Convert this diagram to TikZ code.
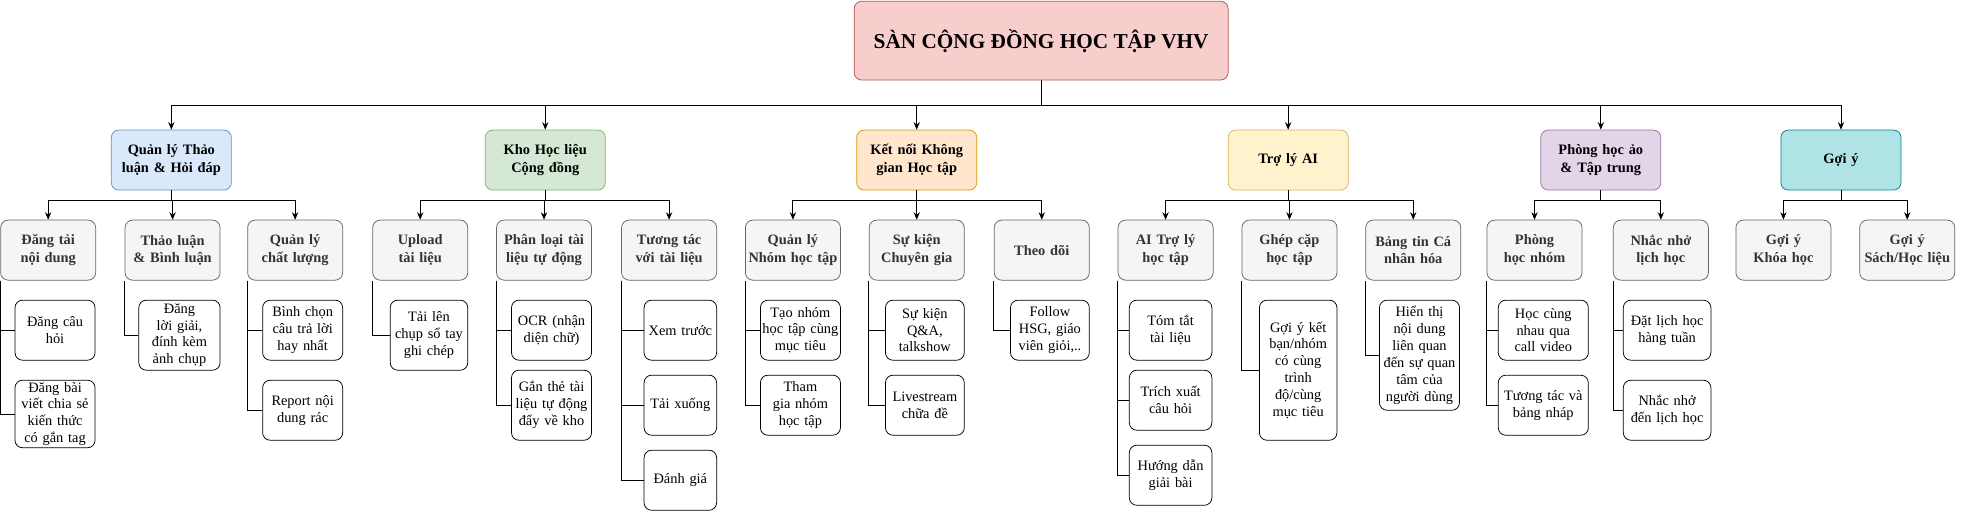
\documentclass[tikz,border=0pt]{standalone}
\usepackage{fontspec}
\setmainfont{Liberation Serif}
\usetikzlibrary{arrows.meta}
\definecolor{rf}{HTML}{F8CECC}\definecolor{rs}{HTML}{B85450}
\definecolor{bf}{HTML}{DAE8FC}\definecolor{bs}{HTML}{6C8EBF}
\definecolor{gf}{HTML}{D5E8D4}\definecolor{gs}{HTML}{82B366}
\definecolor{of}{HTML}{FFE6CC}\definecolor{os}{HTML}{D79B00}
\definecolor{yf}{HTML}{FFF2CC}\definecolor{ys}{HTML}{D6B656}
\definecolor{pf}{HTML}{E1D5E7}\definecolor{ps}{HTML}{9673A6}
\definecolor{tf}{HTML}{B0E3E6}\definecolor{ts}{HTML}{0E8088}
\definecolor{nf}{HTML}{F5F5F5}\definecolor{ns}{HTML}{666666}\definecolor{nt}{HTML}{333333}
\begin{document}
\begin{tikzpicture}[x=1pt,y=-1pt,
  box/.style={draw, rounded corners=6pt, align=center, inner sep=1pt, line width=0.6pt},
  lone/.style={box, font=\fontsize{11.5}{14}\selectfont\bfseries, minimum width=96pt, minimum height=48pt, text width=88pt},
  ltwo/.style={box, draw=ns, fill=nf, text=nt, font=\fontsize{11.5}{14}\selectfont\bfseries, minimum width=76pt, minimum height=48pt, text width=74pt},
  leaf/.style={box, fill=white, font=\fontsize{11.5}{13.5}\selectfont},
  arr/.style={-{Stealth[length=6pt,width=5pt]}, line width=0.7pt},
  stem/.style={line width=0.7pt}]
\useasboundingbox (0,0) rectangle (1568,409.6);
\node[box, fill=rf, draw=rs, minimum width=299pt, minimum height=63pt, font=\fontsize{17}{20}\selectfont\bfseries] (root) at (832.5,32.5) {SÀN CỘNG ĐỒNG HỌC TẬP VHV};
\node[lone, fill=bf, draw=bs] (g1) at (137,128) {Quản lý Thảo luận \& Hỏi đáp};
\node[lone, fill=gf, draw=gs] (g2) at (436,128) {Kho Học liệu Cộng đồng};
\node[lone, fill=of, draw=os] (g3) at (733,128) {Kết nối Không gian Học tập};
\node[lone, fill=yf, draw=ys] (g4) at (1030,128) {Trợ lý AI};
\node[lone, fill=pf, draw=ps] (g5) at (1280,128) {Phòng học ảo \& Tập trung};
\node[lone, fill=tf, draw=ts] (g6) at (1472,128) {Gợi ý};
\foreach \g in {g1,g2,g3,g4,g5,g6}{\draw[arr] (root.south) -- ++(0,20) -| (\g.north);}
\node[ltwo] (a1) at (38.5,200) {Đăng tải nội dung};
\node[ltwo] (a2) at (138,200) {Thảo luận \& Bình luận};
\node[ltwo] (a3) at (236,200) {Quản lý chất lượng};
\node[ltwo] (b1) at (336,200) {Upload tài liệu};
\node[ltwo] (b2) at (435,200) {Phân loại tài liệu tự động};
\node[ltwo] (b3) at (535,200) {Tương tác với tài liệu};
\node[ltwo] (c1) at (634,200) {Quản lý Nhóm học tập};
\node[ltwo] (c2) at (733,200) {Sự kiện Chuyên gia};
\node[ltwo] (c3) at (833,200) {Theo dõi};
\node[ltwo] (d1) at (932,200) {AI Trợ lý học tập};
\node[ltwo] (d2) at (1031,200) {Ghép cặp học tập};
\node[ltwo] (d3) at (1130,200) {Bảng tin Cá nhân hóa};
\node[ltwo] (e1) at (1227,200) {Phòng học nhóm};
\node[ltwo] (e2) at (1328,200) {Nhắc nhở lịch học};
\node[ltwo] (f1) at (1426,200) {Gợi ý Khóa học};
\node[ltwo] (f2) at (1525,200) {Gợi ý Sách/Học liệu};
\foreach \p/\cs in {g1/{a1,a2,a3},g2/{b1,b2,b3},g3/{c1,c2,c3},g4/{d1,d2,d3},g5/{e1,e2},g6/{f1,f2}}{
  \foreach \c in \cs {\draw[arr] (\p.south) -- ++(0,8) -| (\c.north);}}
\newcommand{\lf}[6]{\node[leaf, minimum width=#3pt, minimum height=#5pt, text width=#3pt-2pt] (#1) at (#2+#3/2,#4+#5/2) {#6};}
\lf{a1x}{12}{64}{240}{48}{Đăng câu\\hỏi}
\lf{a1y}{12}{64}{304}{54}{Đăng bài viết chia sẻ kiến thức có gắn tag}
\lf{a2x}{111}{65}{240}{56}{Đăng lời giải, đính kèm ảnh chụp}
\lf{a3x}{210}{64}{240}{48}{Bình chọn câu trả lời hay nhất}
\lf{a3y}{210}{64}{304}{48}{Report nội dung rác}
\lf{b1x}{312}{62}{240}{56}{Tải lên chụp sổ tay ghi chép}
\lf{b2x}{409}{64}{240}{48}{OCR (nhận diện chữ)}
\lf{b2y}{409}{64}{296}{56}{Gắn thẻ tài liệu tự động đẩy về kho}
\lf{b3x}{515}{58}{240}{48}{Xem trước}
\lf{b3y}{515}{58}{300}{48}{Tải xuống}
\lf{b3z}{515}{58}{360}{48}{Đánh giá}
\lf{c1x}{608}{64}{240}{48}{Tạo nhóm học tập cùng mục tiêu}
\lf{c1y}{608}{64}{300}{48}{Tham gia nhóm học tập}
\lf{c2x}{708}{63}{240}{48}{Sự kiện Q\&A, talkshow}
\lf{c2y}{708}{63}{300}{48}{Livestream chữa đề}
\lf{c3x}{808}{63}{240}{48}{Follow HSG, giáo viên giỏi,..}
\lf{d1x}{903}{66}{240}{48}{Tóm tắt tài liệu}
\lf{d1y}{903}{66}{296}{48}{Trích xuất câu hỏi}
\lf{d1z}{903}{66}{356}{48}{Hướng dẫn giải bài}
\lf{d2x}{1007}{62}{240}{112}{Gợi ý kết bạn/nhóm có cùng trình độ/cùng mục tiêu}
\lf{d3x}{1103}{64}{240}{88}{Hiển thị nội dung liên quan đến sự quan tâm của người dùng}
\lf{e1x}{1198}{72}{240}{48}{Học cùng nhau qua call video}
\lf{e1y}{1198}{72}{300}{48}{Tương tác và bảng nháp}
\lf{e2x}{1298}{70}{240}{48}{Đặt lịch học hàng tuần}
\lf{e2y}{1298}{70}{304}{48}{Nhắc nhở đến lịch học}
\foreach \p/\ls in {a1/{a1x,a1y},a2/{a2x},a3/{a3x,a3y},b1/{b1x},b2/{b2x,b2y},b3/{b3x,b3y,b3z},c1/{c1x,c1y},c2/{c2x,c2y},c3/{c3x},d1/{d1x,d1y,d1z},d2/{d2x},d3/{d3x},e1/{e1x,e1y},e2/{e2x,e2y}}{
  \foreach \l in \ls {\draw[stem] (\p.south west) |- (\l.west);}}
\end{tikzpicture}
\end{document}
